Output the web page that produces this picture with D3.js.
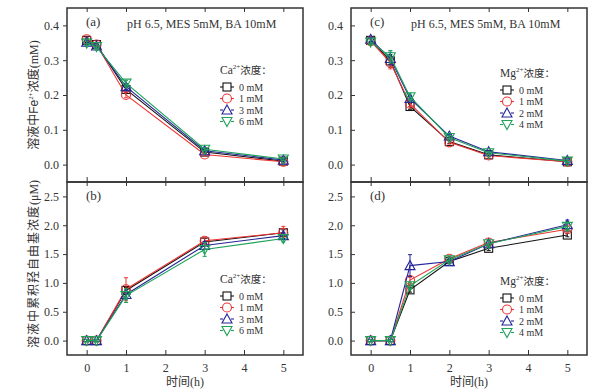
<!DOCTYPE html>
<html>
<head>
<meta charset="utf-8">
<script src="https://cdn.jsdelivr.net/npm/d3@7.9.0/dist/d3.min.js"></script>
<style>
  body { margin: 0; background: #fff; }
  svg text { font-family: "Liberation Serif", "Noto Sans CJK SC", serif; fill: #333; }
</style>
</head>
<body>
<svg id="chart" width="608" height="392"></svg>
<script>
// time points (h)
const timeCa = [0, 0.25, 1, 3, 5];
const timeMg = [0, 0.5, 1, 2, 3, 5];

// (a) Fe2+ with Ca2+
const feCa0 = [0.357, 0.345, 0.216, 0.036, 0.010];
const feCa1 = [0.360, 0.345, 0.200, 0.029, 0.008];
const feCa3 = [0.352, 0.341, 0.224, 0.040, 0.013];
const feCa6 = [0.349, 0.339, 0.234, 0.044, 0.016];
const feCaErr = [0.006, 0.005, 0.008, 0.004, 0.004];

// (c) Fe2+ with Mg2+
const feMg0 = [0.357, 0.298, 0.167, 0.066, 0.028, 0.008];
const feMg1 = [0.355, 0.293, 0.175, 0.064, 0.026, 0.008];
const feMg2 = [0.360, 0.305, 0.190, 0.082, 0.037, 0.012];
const feMg4 = [0.352, 0.310, 0.195, 0.078, 0.034, 0.010];
const feMgErr = [0.006, 0.018, 0.008, 0.005, 0.004, 0.004];

// (b) OH radical with Ca2+
const ohCa0 = [0, 0, 0.87, 1.71, 1.87];
const ohCa1 = [0, 0, 0.89, 1.73, 1.87];
const ohCa3 = [0, 0, 0.80, 1.65, 1.82];
const ohCa6 = [0, 0, 0.78, 1.58, 1.77];
const ohCaErr0 = [0.02, 0.02, 0.05, 0.06, 0.05];
const ohCaErr1 = [0.02, 0.02, 0.20, 0.05, 0.11];
const ohCaErr3 = [0.02, 0.02, 0.08, 0.06, 0.05];
const ohCaErr6 = [0.02, 0.02, 0.12, 0.12, 0.06];

// (d) OH radical with Mg2+
const ohMg0 = [0, 0, 0.88, 1.37, 1.60, 1.83];
const ohMg1 = [0, 0, 1.05, 1.42, 1.70, 1.93];
const ohMg2 = [0, 0, 1.30, 1.37, 1.68, 2.01];
const ohMg4 = [0, 0, 0.95, 1.40, 1.68, 1.98];
const ohMgErr0 = [0.02, 0.02, 0.04, 0.03, 0.04, 0.03];
const ohMgErr1 = [0.02, 0.02, 0.05, 0.04, 0.04, 0.05];
const ohMgErr2 = [0.02, 0.02, 0.19, 0.04, 0.04, 0.08];
const ohMgErr4 = [0.02, 0.02, 0.05, 0.04, 0.04, 0.05];

const caLabels = ['0 mM', '1 mM', '3 mM', '6 mM'];
const mgLabels = ['0 mM', '1 mM', '2 mM', '4 mM'];
const xTicks = [0, 1, 2, 3, 4, 5];
const colors = ['#111111', '#ee3333', '#25259a', '#1fa25a'];
const shapes = ['square', 'circle', 'triangle', 'down'];

const svg = d3.select('#chart');

const panels = [
  { tag: '(a)', x0: 67, x1: 303, y0: 8, y1: 182, yDom: [-0.05, 0.45], yTicks: [0, 0.1, 0.2, 0.3, 0.4],
    time: timeCa, series: [feCa0, feCa1, feCa3, feCa6], err: [feCaErr, feCaErr, feCaErr, feCaErr],
    ion: 'Ca', labels: caLabels, legX: 220, legY: 70, outTicks: true, header: true, bottom: false },
  { tag: '(b)', x0: 67, x1: 303, y0: 182, y1: 355, yDom: [-0.25, 2.75], yTicks: [0, 0.5, 1, 1.5, 2, 2.5],
    time: timeCa, series: [ohCa0, ohCa1, ohCa3, ohCa6], err: [ohCaErr0, ohCaErr1, ohCaErr3, ohCaErr6],
    ion: 'Ca', labels: caLabels, legX: 220, legY: 279, outTicks: true, header: false, bottom: true },
  { tag: '(c)', x0: 351, x1: 587, y0: 8, y1: 182, yDom: [-0.05, 0.45], yTicks: [0, 0.1, 0.2, 0.3, 0.4],
    time: timeMg, series: [feMg0, feMg1, feMg2, feMg4], err: [feMgErr, feMgErr, feMgErr, feMgErr],
    ion: 'Mg', labels: mgLabels, legX: 500, legY: 73, outTicks: false, header: true, bottom: false },
  { tag: '(d)', x0: 351, x1: 587, y0: 182, y1: 355, yDom: [-0.25, 2.75], yTicks: [0, 0.5, 1, 1.5, 2, 2.5],
    time: timeMg, series: [ohMg0, ohMg1, ohMg2, ohMg4], err: [ohMgErr0, ohMgErr1, ohMgErr2, ohMgErr4],
    ion: 'Mg', labels: mgLabels, legX: 500, legY: 281, outTicks: false, header: false, bottom: true }
];

function marker(g, shape, cx, cy, color) {
  const s = 4;
  let el;
  if (shape === 'square') {
    el = g.append('rect').attr('x', cx - s).attr('y', cy - s).attr('width', 2 * s).attr('height', 2 * s);
  } else if (shape === 'circle') {
    el = g.append('circle').attr('cx', cx).attr('cy', cy).attr('r', s + 0.5);
  } else if (shape === 'triangle') {
    el = g.append('path').attr('d', `M${cx},${cy - s - 1}L${cx + s + 1},${cy + s}L${cx - s - 1},${cy + s}Z`);
  } else {
    el = g.append('path').attr('d', `M${cx},${cy + s + 1}L${cx + s + 1},${cy - s}L${cx - s - 1},${cy - s}Z`);
  }
  el.attr('fill', 'none').attr('stroke', color).attr('stroke-width', 1.1);
}

panels.forEach(p => {
  const x = d3.scaleLinear().domain([-0.5, 5.5]).range([p.x0, p.x1]);
  const y = d3.scaleLinear().domain(p.yDom).range([p.y1, p.y0]);
  const g = svg.append('g');

  // y axis
  const yAxis = d3.axisLeft(y).tickValues(p.yTicks).tickFormat(d3.format('.1f'))
    .tickSize(p.outTicks ? 4 : -4).tickPadding(p.outTicks ? 4 : 8);
  const ya = g.append('g').attr('transform', `translate(${p.x0},0)`).call(yAxis);
  ya.select('.domain').remove();
  ya.selectAll('line').attr('stroke', '#333').attr('stroke-width', 1);
  ya.selectAll('text').attr('font-size', 12).style('font-family', '"Liberation Serif", serif').attr('fill', '#333');

  // x axis ticks (inward)
  const xAxis = d3.axisBottom(x).tickValues(xTicks).tickFormat(d3.format('d')).tickSize(-5).tickPadding(8);
  const xa = g.append('g').attr('transform', `translate(0,${p.y1})`).call(xAxis);
  xa.select('.domain').remove();
  xa.selectAll('line').attr('stroke', '#333').attr('stroke-width', 1);
  if (p.bottom) {
    xa.selectAll('text').attr('font-size', 12).style('font-family', '"Liberation Serif", serif').attr('fill', '#333');
  } else {
    xa.selectAll('text').remove();
  }
  const xt = g.append('g').attr('transform', `translate(0,${p.y0})`).call(d3.axisTop(x).tickValues(xTicks).tickSize(-4));
  xt.select('.domain').remove();
  xt.selectAll('text').remove();
  xt.selectAll('line').attr('stroke', '#333');

  // frame
  g.append('rect').attr('x', p.x0).attr('y', p.y0).attr('width', p.x1 - p.x0).attr('height', p.y1 - p.y0)
    .attr('fill', 'none').attr('stroke', '#333').attr('stroke-width', 1.5);

  // series
  const line = d3.line().x(d => x(d[0])).y(d => y(d[1]));
  p.series.forEach((vals, i) => {
    const pts = p.time.map((t, k) => [t, vals[k], p.err[i][k]]);
    g.append('path').datum(pts).attr('d', line).attr('fill', 'none')
      .attr('stroke', colors[i]).attr('stroke-width', 1.1);
    pts.forEach(d => {
      const cx = x(d[0]);
      g.append('line').attr('x1', cx).attr('x2', cx).attr('y1', y(d[1] - d[2])).attr('y2', y(d[1] + d[2]))
        .attr('stroke', colors[i]).attr('stroke-width', 1);
      [d[1] - d[2], d[1] + d[2]].forEach(v => {
        g.append('line').attr('x1', cx - 2).attr('x2', cx + 2).attr('y1', y(v)).attr('y2', y(v))
          .attr('stroke', colors[i]).attr('stroke-width', 1);
      });
      marker(g, shapes[i], cx, y(d[1]), colors[i]);
    });
  });

  // panel tag
  g.append('text').attr('x', p.x0 + 19).attr('y', p.y0 + 18).attr('font-size', 13).text(p.tag);
  if (p.header) {
    g.append('text').attr('x', p.x0 + 60).attr('y', p.y0 + 20).attr('font-size', 12)
      .text('pH 6.5, MES 5mM, BA 10mM');
  }

  // legend
  const lt = g.append('text').attr('x', p.legX).attr('y', p.legY + 4).attr('font-size', 11.5);
  lt.append('tspan').text(p.ion);
  lt.append('tspan').attr('font-size', 7).attr('dy', -5).text('2+');
  lt.append('tspan').attr('dy', 5).style('font-family', '"Noto Sans CJK SC", sans-serif').attr('font-size', 10.5).text('浓度：');
  p.labels.forEach((lab, i) => {
    const ly = p.legY + 17 + i * 11.5;
    const cx = p.legX + 7;
    g.append('line').attr('x1', p.legX).attr('x2', cx - 4).attr('y1', ly).attr('y2', ly).attr('stroke', colors[i]).attr('stroke-width', 1.1);
    g.append('line').attr('x1', cx + 4).attr('x2', p.legX + 14).attr('y1', ly).attr('y2', ly).attr('stroke', colors[i]).attr('stroke-width', 1.1);
    marker(g, shapes[i], cx, ly, colors[i]);
    g.append('text').attr('x', p.legX + 19).attr('y', ly + 3.5).attr('font-size', 10).text(lab);
  });

  if (p.bottom) {
    const tx = g.append('text').attr('x', (p.x0 + p.x1) / 2).attr('y', 386).attr('text-anchor', 'middle').attr('font-size', 12);
    tx.append('tspan').style('font-family', '"Noto Sans CJK SC", sans-serif').text('时间');
    tx.append('tspan').text('(h)');
  }
});

// y titles
const yt1 = svg.append('text').attr('transform', 'translate(38,95) rotate(-90)').attr('text-anchor', 'middle').attr('font-size', 12);
yt1.append('tspan').style('font-family', '"Noto Sans CJK SC", sans-serif').text('溶液中');
yt1.append('tspan').style('font-family', '"Liberation Sans", sans-serif').text('Fe');
yt1.append('tspan').attr('font-size', 7).attr('dy', -5).text('2+');
yt1.append('tspan').attr('dy', 5).style('font-family', '"Noto Sans CJK SC", sans-serif').text('浓度');
yt1.append('tspan').text('(mM)');

const yt2 = svg.append('text').attr('transform', 'translate(38,264) rotate(-90)').attr('text-anchor', 'middle').attr('font-size', 12);
yt2.append('tspan').style('font-family', '"Noto Sans CJK SC", sans-serif').attr('letter-spacing', 1).text('溶液中累积羟自由基浓度');
yt2.append('tspan').text('(μM)');
</script>
</body>
</html>
